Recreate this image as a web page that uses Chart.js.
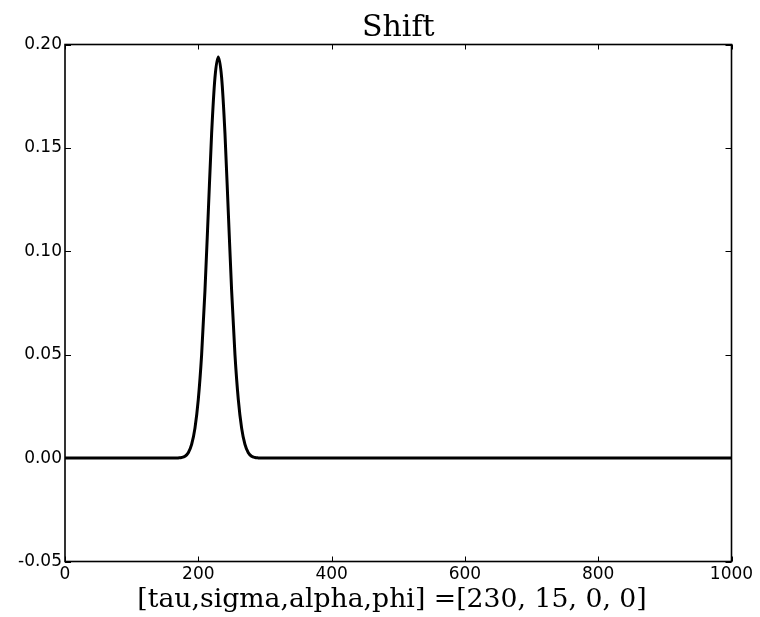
<!DOCTYPE html>
<html>
<head>
<meta charset="utf-8">
<script src="https://cdn.jsdelivr.net/npm/chart.js@4.4.0/dist/chart.umd.min.js"></script>
<style>
  html, body { margin: 0; padding: 0; background: #fff; }
  #wrap { width: 760px; height: 617px; }
</style>
</head>
<body>
<div id="wrap"><canvas id="grafico" width="760" height="617"></canvas></div>
<script>
// Dados
const titulo = 'Shift';
const rotuloX = '[tau,sigma,alpha,phi] =[230, 15, 0, 0]';
const posX = [0, 160, 165, 170, 175, 180, 185, 190, 195, 200, 205, 210, 215, 220, 225, 230,
  235, 240, 245, 250, 255, 260, 265, 270, 275, 280, 285, 290, 295, 300, 1000];
const valores = [0, 0, 0, 0.0001, 0.0003, 0.0009, 0.0026, 0.0066, 0.0145, 0.0284, 0.050, 0.081, 0.119, 0.157, 0.184, 0.194,
  0.184, 0.157, 0.119, 0.081, 0.050, 0.0284, 0.0145, 0.0066, 0.0026, 0.0009, 0.0003, 0.0001, 0, 0, 0];
const ticksY = [-0.05, 0, 0.05, 0.10, 0.15, 0.20];
const ticksX = [0, 200, 400, 600, 800, 1000];

// moldura, ticks para dentro, título e rótulo do eixo x
const moldura = {
  id: 'moldura',
  afterDraw(chart) {
    const { ctx, chartArea: a, scales } = chart;
    ctx.save();
    ctx.strokeStyle = '#000';
    ctx.lineWidth = 1.6;
    ctx.strokeRect(a.left, a.top, a.right - a.left, a.bottom - a.top);

    ctx.lineWidth = 1;
    ctx.beginPath();
    ticksX.forEach(v => {
      const x = Math.round(scales.x.getPixelForValue(v)) + 0.5;
      ctx.moveTo(x, a.bottom); ctx.lineTo(x, a.bottom - 5);
      ctx.moveTo(x, a.top); ctx.lineTo(x, a.top + 5);
    });
    ticksY.forEach(v => {
      const y = Math.round(scales.y.getPixelForValue(v)) + 0.5;
      ctx.moveTo(a.left, y); ctx.lineTo(a.left + 6, y);
      ctx.moveTo(a.right, y); ctx.lineTo(a.right - 6, y);
    });
    ctx.stroke();

    ctx.fillStyle = '#000';
    ctx.textAlign = 'center';
    ctx.textBaseline = 'alphabetic';
    ctx.font = '30px "DejaVu Serif"';
    ctx.fillText(titulo, (a.left + a.right) / 2, 36);
    ctx.font = '26.7px "DejaVu Serif"';
    ctx.fillText(rotuloX, 392, 606.5);
    ctx.restore();
  }
};

new Chart(document.getElementById('grafico'), {
  type: 'line',
  data: {
    datasets: [{
      data: posX.map((x, i) => ({ x, y: valores[i] })),
      borderColor: '#000',
      borderWidth: 3,
      pointRadius: 0,
      cubicInterpolationMode: 'monotone',
      fill: false
    }]
  },
  options: {
    responsive: false,
    animation: false,
    layout: { padding: { top: 44.5, right: 28.5, left: 0, bottom: 0 } },
    plugins: { legend: { display: false }, tooltip: { enabled: false } },
    scales: {
      x: {
        type: 'linear', min: 0, max: 1000,
        afterFit: s => { s.height = 55.5; },
        afterBuildTicks: s => { s.ticks = ticksX.map(value => ({ value })); },
        grid: { display: false, drawTicks: false },
        border: { display: false },
        ticks: { color: '#000', font: { family: 'DejaVu Sans', size: 17 }, padding: 3, maxRotation: 0,
          callback: v => String(v) }
      },
      y: {
        min: -0.05, max: 0.2,
        afterFit: s => { s.width = 65; },
        afterBuildTicks: s => { s.ticks = ticksY.map(value => ({ value })); },
        grid: { display: false, drawTicks: false },
        border: { display: false },
        ticks: { color: '#000', font: { family: 'DejaVu Sans', size: 17 }, padding: 3,
          callback: v => Number(v).toFixed(2) }
      }
    }
  },
  plugins: [moldura]
});
</script>
</body>
</html>
